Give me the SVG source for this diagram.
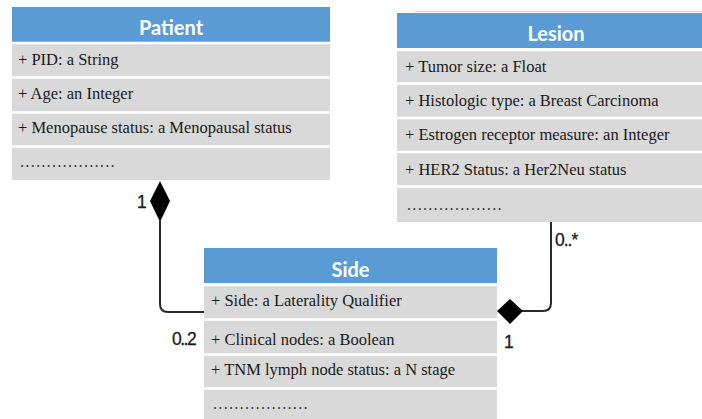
<svg xmlns="http://www.w3.org/2000/svg" width="702" height="419" viewBox="0 0 702 419">
  <style>
    .hdr { fill: #5B9BD5; }
    .body { fill: #D9D9D9; }
    .sep { stroke: #FFFFFF; stroke-width: 2.5; }
    .title { font-family: Lato, "Open Sans", sans-serif; font-weight: bold; font-size: 20px; fill: #FFFFFF; text-anchor: middle; }
    .attr { font-family: 'Liberation Serif', 'Times New Roman', serif; font-size: 16.5px; fill: #1A1A1A; }
    .dots { font-family: 'Liberation Serif', 'Times New Roman', serif; font-size: 16.5px; fill: #3A3A3A; letter-spacing: 1.2px; }
    .conn { fill: none; stroke: #2A2A2A; stroke-width: 2; }
    .dia { fill: #000000; }
    .mult { font-family: 'Liberation Sans', Arial, sans-serif; font-size: 17.5px; fill: #1A1A1A; stroke: #1A1A1A; stroke-width: 0.3; }
  </style>

  <rect width="702" height="419" fill="#FFFFFF"/>

  <!-- Patient class -->
  <g id="patient">
    <rect class="hdr" x="12" y="7" width="318" height="35"/>
    <text class="title" x="171" y="35">Patient</text>
    <rect class="body" x="12" y="43" width="318" height="137"/>
    <line class="sep" x1="12" y1="43" x2="330" y2="43"/>
    <line class="sep" x1="12" y1="77.5" x2="330" y2="77.5"/>
    <line class="sep" x1="12" y1="112.5" x2="330" y2="112.5"/>
    <line class="sep" x1="12" y1="146.5" x2="330" y2="146.5"/>
    <text class="attr" x="18" y="65">+ PID: a String</text>
    <text class="attr" x="18" y="99">+ Age: an Integer</text>
    <text class="attr" x="18" y="133">+ Menopause status: a Menopausal status</text>
    <text class="dots" x="20" y="167">..................</text>
  </g>

  <!-- Lesion class (runs past the right edge) -->
  <g id="lesion">
    <line x1="415" y1="11.5" x2="702" y2="11.5" stroke="#D3D6DC" stroke-width="1.5"/>
    <rect class="hdr" x="397" y="13" width="320" height="35"/>
    <text class="title" x="556" y="41">Lesion</text>
    <rect class="body" x="397" y="50" width="320" height="172"/>
    <line class="sep" x1="397" y1="50" x2="717" y2="50"/>
    <line class="sep" x1="397" y1="83.5" x2="717" y2="83.5"/>
    <line class="sep" x1="397" y1="118" x2="717" y2="118"/>
    <line class="sep" x1="397" y1="152" x2="717" y2="152"/>
    <line class="sep" x1="397" y1="186.5" x2="717" y2="186.5"/>
    <text class="attr" x="405" y="72">+ Tumor size: a Float</text>
    <text class="attr" x="405" y="106">+ Histologic type: a Breast Carcinoma</text>
    <text class="attr" x="405" y="140">+ Estrogen receptor measure: an Integer</text>
    <text class="attr" x="405" y="175">+ HER2 Status: a Her2Neu status</text>
    <text class="dots" x="407" y="210">..................</text>
  </g>

  <!-- Side class (runs past the bottom edge) -->
  <g id="side">
    <rect class="hdr" x="204" y="248" width="293" height="35"/>
    <text class="title" x="350.5" y="277">Side</text>
    <rect class="body" x="204" y="285" width="293" height="134"/>
    <line class="sep" x1="204" y1="285" x2="497" y2="285"/>
    <line class="sep" x1="204" y1="319.5" x2="497" y2="319.5"/>
    <line class="sep" x1="204" y1="354.5" x2="497" y2="354.5"/>
    <line class="sep" x1="204" y1="388.5" x2="497" y2="388.5"/>
    <text class="attr" x="211" y="306">+ Side: a Laterality Qualifier</text>
    <text class="attr" x="211" y="345">+ Clinical nodes: a Boolean</text>
    <text class="attr" x="211" y="375">+ TNM lymph node status: a N stage</text>
    <text class="dots" x="213" y="409">..................</text>
  </g>

  <!-- Composition connectors with multiplicities -->
  <g id="connectors">
    <path class="conn" d="M160 221 V304 Q160 312 168 312 H204"/>
    <polygon class="dia" points="160,181 170,201 160,222 150,201"/>
    <text class="mult" x="137" y="208">1</text>
    <text class="mult" x="172" y="345" letter-spacing="-1.5">0..2</text>

    <path class="conn" d="M551 222 V303 Q551 311 543 311 H522"/>
    <polygon class="dia" points="497,311 510,299 523,311 510,324"/>
    <text class="mult" x="555" y="246" letter-spacing="-1">0..*</text>
    <text class="mult" x="504" y="348">1</text>
  </g>
</svg>
